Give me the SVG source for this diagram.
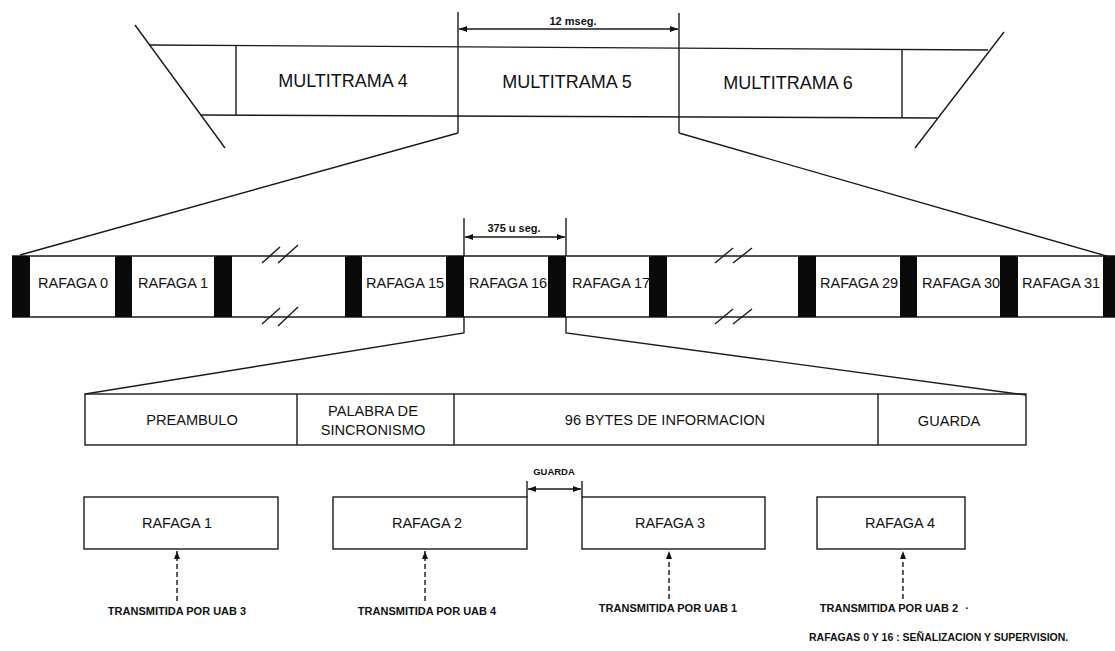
<svg xmlns="http://www.w3.org/2000/svg" width="1115" height="651" viewBox="0 0 1115 651">
<style>
.ln{stroke:#1a1a1a;stroke-width:1.4;fill:none}
.box{fill:#fff;stroke:#1a1a1a;stroke-width:1.4}
.blk{fill:#0a0a0a}
.dash{stroke:#1a1a1a;stroke-width:1.4;fill:none;stroke-dasharray:5 3}
text{font-family:"Liberation Sans",Arial,sans-serif;fill:#111}
.t18{font-size:18px;text-anchor:middle}
.t14{font-size:14.5px}
.t15{font-size:14.6px;text-anchor:middle}
.tc{font-size:14.5px;text-anchor:middle}
.sm{font-size:11px;font-weight:bold;text-anchor:middle}
.note{font-size:10.5px;font-weight:bold}
</style>
<defs>
<marker id="ah" markerWidth="8" markerHeight="6" refX="8" refY="3" orient="auto-start-reverse" markerUnits="userSpaceOnUse">
<path d="M0,0 L8,3 L0,6 z" fill="#111"/>
</marker>
</defs>
<rect width="1115" height="651" fill="#fff"/>

<g id="multitrama-band">
<line class="ln" x1="135" y1="25" x2="225" y2="148"/>
<line class="ln" x1="1004" y1="32" x2="915" y2="148"/>
<line class="ln" x1="149" y1="45" x2="988" y2="50"/>
<line class="ln" x1="200" y1="115" x2="937" y2="118"/>
<line class="ln" x1="236" y1="45" x2="236" y2="115"/>
<line class="ln" x1="902" y1="50" x2="902" y2="118"/>
</g>
<g id="multitrama4"><text class="t18" x="343" y="87">MULTITRAMA 4</text></g>
<g id="multitrama5">
<line class="ln" x1="458" y1="12" x2="458" y2="133"/>
<line class="ln" x1="679" y1="13" x2="679" y2="133"/>
<text class="t18" x="567" y="88">MULTITRAMA 5</text>
</g>
<g id="multitrama6"><text class="t18" x="788" y="89">MULTITRAMA 6</text></g>
<g id="dim-12ms">
<line class="ln" x1="459" y1="29" x2="678" y2="29" marker-start="url(#ah)" marker-end="url(#ah)"/>
<text class="sm" x="573" y="25">12 mseg.</text>
</g>

<g id="rafaga-band">
<line class="ln" x1="12" y1="256" x2="1115" y2="256"/>
<line class="ln" x1="12" y1="317" x2="1115" y2="317"/>
<text class="t14" x="38" y="288">RAFAGA 0</text>
<text class="t14" x="138" y="288">RAFAGA 1</text>
<text class="t14" x="366" y="288">RAFAGA 15</text>
<text class="t14" x="469" y="288">RAFAGA 16</text>
<text class="t14" x="572" y="288">RAFAGA 17</text>
<text class="t14" x="820" y="288">RAFAGA 29</text>
<text class="t14" x="922" y="288">RAFAGA 30</text>
<text class="t14" x="1022" y="288">RAFAGA 31</text>
<rect class="blk" x="12" y="256" width="18" height="61"/>
<rect class="blk" x="115" y="256" width="17" height="61"/>
<rect class="blk" x="214" y="256" width="18" height="61"/>
<rect class="blk" x="345" y="256" width="17" height="61"/>
<rect class="blk" x="446" y="256" width="18" height="61"/>
<rect class="blk" x="548" y="256" width="18" height="61"/>
<rect class="blk" x="649" y="256" width="18" height="61"/>
<rect class="blk" x="798" y="256" width="18" height="61"/>
<rect class="blk" x="900" y="256" width="17" height="61"/>
<rect class="blk" x="1000" y="256" width="18" height="61"/>
<rect class="blk" x="1103" y="256" width="12" height="61"/>
<line class="ln" x1="262" y1="263" x2="280" y2="247"/>
<line class="ln" x1="278" y1="263" x2="298" y2="245"/>
<line class="ln" x1="262" y1="324" x2="280" y2="308"/>
<line class="ln" x1="278" y1="326" x2="298" y2="307"/>
<line class="ln" x1="715" y1="263" x2="733" y2="248"/>
<line class="ln" x1="733" y1="263" x2="752" y2="248"/>
<line class="ln" x1="715" y1="324" x2="733" y2="309"/>
<line class="ln" x1="733" y1="324" x2="752" y2="309"/>
</g>
<g id="dim-375us">
<line class="ln" x1="464" y1="218" x2="464" y2="256"/>
<line class="ln" x1="566" y1="218" x2="566" y2="256"/>
<line class="ln" x1="465" y1="237" x2="565" y2="237" marker-start="url(#ah)" marker-end="url(#ah)"/>
<text class="sm" x="514" y="232">375 u seg.</text>
</g>

<g id="frame-structure">
<rect class="box" x="85" y="394" width="941" height="51"/>
<line class="ln" x1="297" y1="394" x2="297" y2="445"/>
<line class="ln" x1="454" y1="394" x2="454" y2="445"/>
<line class="ln" x1="878" y1="394" x2="878" y2="445"/>
<text class="t15" x="192" y="425">PREAMBULO</text>
<text class="t15" x="373" y="416">PALABRA DE</text>
<text class="t15" x="373" y="435">SINCRONISMO</text>
<text class="t15" x="665" y="425">96 BYTES DE INFORMACION</text>
<text class="t15" x="949" y="426">GUARDA</text>
</g>

<g id="rafaga1"><rect class="box" x="84" y="497" width="194" height="52"/><text class="tc" x="177" y="528">RAFAGA 1</text></g>
<g id="rafaga2"><rect class="box" x="333" y="497" width="194" height="52"/><text class="tc" x="427" y="528">RAFAGA 2</text></g>
<g id="rafaga3"><rect class="box" x="582" y="497" width="183" height="52"/><text class="tc" x="670" y="528">RAFAGA 3</text></g>
<g id="rafaga4"><rect class="box" x="817" y="497" width="148" height="52"/><text class="tc" x="900" y="528">RAFAGA 4</text></g>
<g id="dim-guarda">
<line class="ln" x1="527" y1="481" x2="527" y2="497"/>
<line class="ln" x1="582" y1="481" x2="582" y2="497"/>
<line class="ln" x1="528" y1="489" x2="581" y2="489" marker-start="url(#ah)" marker-end="url(#ah)"/>
<text class="sm" x="554" y="475" style="font-size:9.5px">GUARDA</text>
</g>

<g id="labels">
<text class="sm" x="177" y="615">TRANSMITIDA POR UAB 3</text>
<text class="sm" x="427" y="615">TRANSMITIDA POR UAB 4</text>
<text class="sm" x="668" y="612">TRANSMITIDA POR UAB 1</text>
<text class="sm" x="889" y="612">TRANSMITIDA POR UAB 2</text>
<text class="sm" x="967" y="612">·</text>
<text class="note" x="809" y="641">RAFAGAS 0 Y 16 : SEÑALIZACION Y SUPERVISION.</text>
</g>

<g id="connectors">
<polyline class="ln" points="458,133 20,255"/>
<polyline class="ln" points="679,133 1110,257"/>
<polyline class="ln" points="464,317 464,333 85,394"/>
<polyline class="ln" points="566,317 566,333 1026,395"/>
<line class="dash" x1="177" y1="601" x2="177" y2="551" marker-end="url(#ah)"/>
<line class="dash" x1="425" y1="601" x2="425" y2="551" marker-end="url(#ah)"/>
<line class="dash" x1="669" y1="599" x2="669" y2="551" marker-end="url(#ah)"/>
<line class="dash" x1="903" y1="599" x2="903" y2="551" marker-end="url(#ah)"/>
</g>
</svg>
